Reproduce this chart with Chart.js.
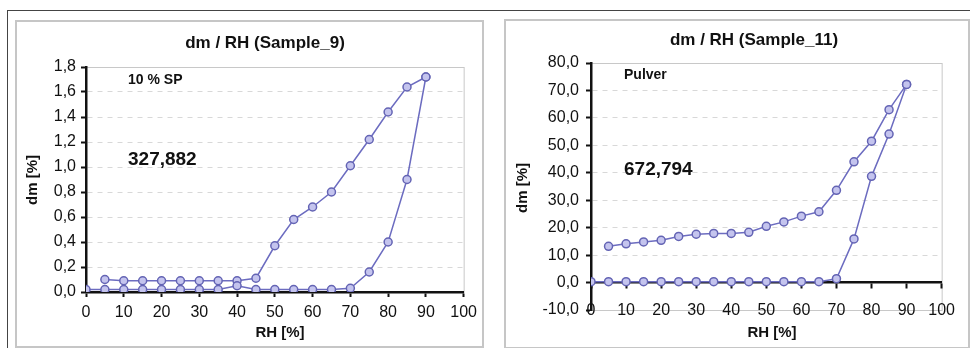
<!DOCTYPE html>
<html>
<head>
<meta charset="utf-8">
<script src="https://cdn.jsdelivr.net/npm/chart.js@4.4.1/dist/chart.umd.min.js"></script>
<style>
  body { margin:0; background:#fff; width:970px; height:348px; overflow:hidden; position:relative; }
  .frame { position:absolute; left:7px; top:10px; width:980px; height:360px; border-top:1px solid #444; border-left:1px solid #444; }
  .box { position:absolute; border:2px solid #c6c6c6; box-sizing:border-box; }
  canvas { position:absolute; }
</style>
</head>
<body>
<div class="frame"></div>
<div class="box" style="left:15px;top:20px;width:469px;height:328px;"></div>
<div class="box" style="left:504px;top:19px;width:466px;height:330px;"></div>
<canvas id="c1" width="467" height="325" style="left:16px;top:21px;"></canvas>
<canvas id="c2" width="463" height="327" style="left:505px;top:20px;"></canvas>
<script>
// relative humidity steps, sorption (up) and desorption (down)
var rhUp = [0,5,10,15,20,25,30,35,40,45,50,55,60,65,70,75,80,85,90];
var rhDown = [90,85,80,75,70,65,60,55,50,45,40,35,30,25,20,15,10,5];

// Sample_9 (10 % SP)
var s9Sorp = [0.02,0.02,0.02,0.02,0.02,0.02,0.02,0.02,0.05,0.02,0.02,0.02,0.02,0.02,0.03,0.16,0.40,0.90,1.72];
var s9Desorp = [1.72,1.64,1.44,1.22,1.01,0.80,0.68,0.58,0.37,0.11,0.09,0.09,0.09,0.09,0.09,0.09,0.09,0.10];

// Sample_11 (Pulver)
var s11Sorp = [0.3,0.3,0.3,0.3,0.3,0.3,0.3,0.3,0.3,0.3,0.3,0.3,0.3,0.3,1.4,15.9,38.7,54.1,72.2];
var s11Desorp = [72.2,63.0,51.5,44.0,33.6,25.8,24.2,22.1,20.5,18.3,17.9,17.9,17.6,16.8,15.4,14.8,14.1,13.2];

var xTicks = [0,10,20,30,40,50,60,70,80,90,100];

var FONT = 'Arial, "Liberation Sans", sans-serif';
var LINE = '#6c6cc0';
var PT_BORDER = '#6464b4';
var PT_FILL = '#c4c4ee';

function pts(xs, ys){
	var out = [];
	for (var i = 0; i < xs.length; i++) out.push({x: xs[i], y: ys[i]});
	return out;
}

function comma(v){
	return Number(v).toFixed(1).replace('.', ',');
}

function ds(data){
	return {
		data: data,
		showLine: true,
		borderColor: LINE,
		borderWidth: 1.5,
		pointRadius: 4,
		pointBorderWidth: 1.5,
		pointBorderColor: PT_BORDER,
		pointBackgroundColor: PT_FILL,
		tension: 0
	};
}

// gray plot frame + text labels
var deco = {
	id: 'deco',
	beforeDraw: function(chart){
		var a = chart.chartArea, ctx = chart.ctx;
		ctx.save();
		ctx.strokeStyle = '#c8c8c8';
		ctx.lineWidth = 1;
		ctx.strokeRect(a.left + 0.5, a.top + 0.5, a.right - a.left, a.bottom - a.top);
		ctx.restore();
	},
	afterDraw: function(chart){
		var t = chart.options.plugins.deco, ctx = chart.ctx;
		ctx.save();
		ctx.fillStyle = '#111';
		ctx.textBaseline = 'middle';
		ctx.textAlign = 'center';
		ctx.font = 'bold 17px ' + FONT;
		ctx.fillText(t.title, t.titleX, t.titleY);
		ctx.font = 'bold 15px ' + FONT;
		ctx.fillText('RH [%]', t.xTitleX, t.xTitleY);
		ctx.save();
		ctx.translate(t.yTitleX, t.yTitleY);
		ctx.rotate(-Math.PI / 2);
		ctx.fillText('dm [%]', 0, 0);
		ctx.restore();
		ctx.textAlign = 'left';
		ctx.font = 'bold 14px ' + FONT;
		ctx.fillText(t.note, t.noteX, t.noteY);
		ctx.font = 'bold 19px ' + FONT;
		ctx.fillText(t.big, t.noteX, t.bigY);
		ctx.restore();
	}
};

function makeChart(id, sorp, desorp, yMin, yMax, yStep, opt){
	var ctx = document.getElementById(id).getContext('2d');
	return new Chart(ctx, {
		type: 'scatter',
		data: { datasets: [ds(pts(rhUp, sorp)), ds(pts(rhDown, desorp))] },
		options: {
			responsive: false,
			animation: false,
			layout: { padding: opt.padding },
			plugins: {
				legend: { display: false },
				tooltip: { enabled: false },
				deco: opt.deco
			},
			scales: {
				x: {
					type: 'linear',
					position: opt.xPos,
					min: 0, max: 100,
					afterBuildTicks: function(s){ s.ticks = xTicks.map(function(v){ return {value: v}; }); },
					afterFit: opt.xFit,
					grid: { drawOnChartArea: false, tickLength: 5, tickColor: '#111', tickWidth: 2 },
					border: { color: '#111', width: 2.5 },
					ticks: { autoSkip: false, maxRotation: 0, padding: opt.xPad, color: '#111', font: { family: FONT, size: 16 } }
				},
				y: {
					min: yMin, max: yMax,
					afterFit: function(s){ s.width = opt.yWidth; },
					grid: {
						color: function(c){
							var v = c.tick && c.tick.value;
							return (v === 0 || v === yMin || v === yMax) ? 'rgba(0,0,0,0)' : '#d8d8d8';
						},
						lineWidth: 1,
						tickLength: 5, tickColor: '#111', tickWidth: 2
					},
					border: { color: '#111', width: 2.5, dash: [5, 5] },
					ticks: { stepSize: yStep, padding: opt.yPad, color: '#111', font: { family: FONT, size: 16 }, callback: comma }
				}
			}
		},
		plugins: [deco]
	});
}

makeChart('c1', s9Sorp, s9Desorp, 0, 1.8, 0.2, {
	padding: { left: 0, top: 46, right: 19, bottom: 0 },
	xPos: 'bottom',
	xFit: function(s){ s.height = 54; },
	xPad: 6,
	yWidth: 70,
	yPad: 5,
	deco: { title: 'dm / RH (Sample_9)', titleX: 249, titleY: 22,
		xTitleX: 264, xTitleY: 312, yTitleX: 17, yTitleY: 159,
		note: '10 % SP', noteX: 112, noteY: 59, big: '327,882', bigY: 139 }
});

makeChart('c2', s11Sorp, s11Desorp, -10, 80, 10, {
	padding: { left: 0, top: 43, right: 15, bottom: 37 },
	xPos: { y: 0 },
	xFit: undefined,
	xPad: 13,
	yWidth: 86,
	yPad: 7,
	deco: { title: 'dm / RH (Sample_11)', titleX: 249, titleY: 20,
		xTitleX: 267, xTitleY: 313, yTitleX: 18, yTitleY: 168,
		note: 'Pulver', noteX: 119, noteY: 55, big: '672,794', bigY: 150 }
});
</script>
</body>
</html>
